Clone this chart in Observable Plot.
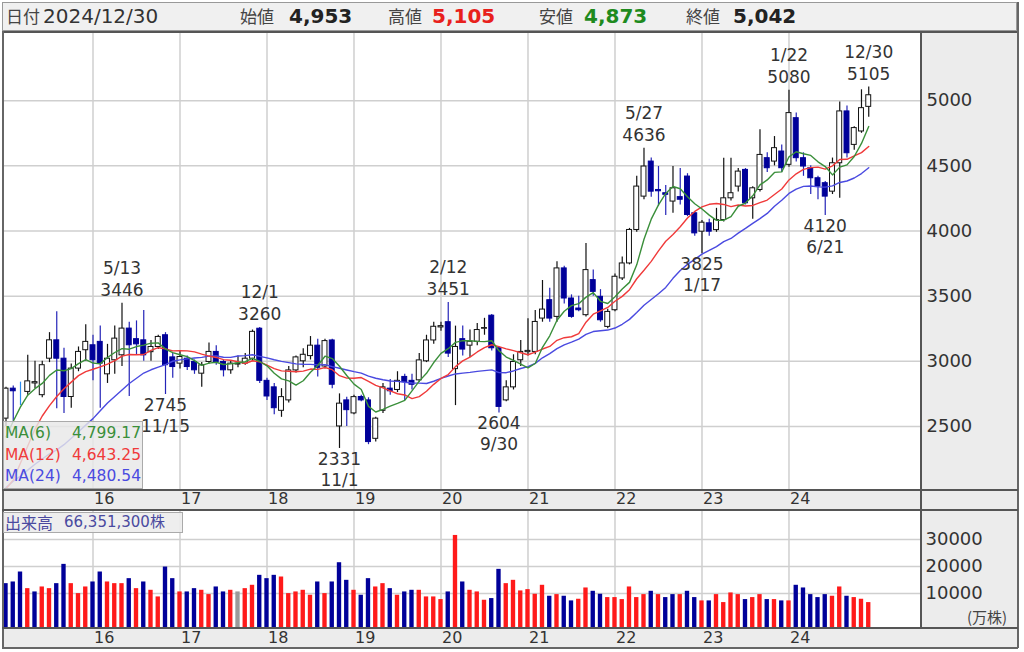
<!DOCTYPE html>
<html><head><meta charset="utf-8">
<script src="https://cdn.jsdelivr.net/npm/d3@7"></script>
<script src="https://cdn.jsdelivr.net/npm/@observablehq/plot@0.6"></script>
<style>
body{margin:0;background:#fff;font-family:"DejaVu Sans","Noto Sans CJK JP",sans-serif;}
#wrap{position:relative;width:1024px;height:652px;overflow:hidden;background:#fff;}
.abs{position:absolute;}
.jp{font-family:"Noto Sans CJK JP",sans-serif;color:#444;}
.num{font-family:"DejaVu Sans",sans-serif;font-weight:bold;font-size:20px;color:#222;}
.lg{position:absolute;font-size:15.5px;font-family:"DejaVu Sans",sans-serif;}
</style></head><body>
<div id="wrap">
  <div class="abs" style="left:2px;top:2px;width:1015px;height:29px;background:#f0f0f0;border:1px solid #999;box-sizing:border-box;"></div>
  <div class="abs" style="left:920px;top:33px;width:98px;height:595px;background:#ececec;"></div>
  <div class="abs" style="left:2px;top:490px;width:1016px;height:20px;background:#ececec;"></div>
  <div class="abs" style="left:2px;top:628px;width:1016px;height:20px;background:#ececec;"></div>
  <div id="mainChart" class="abs" style="left:0;top:33px;"></div>
  <div id="volChart" class="abs" style="left:0;top:510px;"></div>
  <div class="abs" style="left:2px;top:31px;width:1016px;height:2px;background:#555;"></div>
  <div class="abs" style="left:2px;top:31px;width:1.5px;height:617px;background:#666;"></div>
  <div class="abs" style="left:1017px;top:2px;width:1.5px;height:646px;background:#666;"></div>
  <div class="abs" style="left:920px;top:33px;width:1.5px;height:595px;background:#555;"></div>
  <div class="abs" style="left:2px;top:489px;width:1016px;height:1.5px;background:#555;"></div>
  <div class="abs" style="left:2px;top:509px;width:1016px;height:1.5px;background:#555;"></div>
  <div class="abs" style="left:2px;top:627px;width:1016px;height:1.5px;background:#555;"></div>
  <div class="abs" style="left:2px;top:647px;width:1016px;height:1.5px;background:#666;"></div>
  <div id="header"></div>
  <div class="abs" style="left:3px;top:421px;width:140px;height:68px;background:rgba(232,232,232,0.82);border:1px solid #aaa;box-sizing:border-box;"></div>
  <div id="maLegend"></div>
  <div class="abs" style="left:3px;top:512px;width:180px;height:21px;background:rgba(236,236,236,0.9);border:1px solid #aaa;box-sizing:border-box;"></div>
  <div id="volLegend"></div>
  <div class="abs jp" style="left:967px;top:606px;font-size:15px;color:#444;">(万株)</div>
</div>
<script>
// ---- data (monthly candles, Jan 2015 .. Dec 2024) ----
const open = [2560,2790,2765,2765,2830,2740,3020,3161,3020,2726,2944,3085,
  3123,3149,2900,3008,3046,3251,3170,3161,3070,3110,3200,3030,
  2982,3020,2995,2905,2995,3072,2995,2931,2975,2982,3020,3250,
  2850,2800,2620,2700,2930,3000,3040,3120,2960,3160,2500,2700,
  2600,2726,2700,2405,2620,2790,2780,2880,2850,2854,3000,3160,
  3260,3300,2940,3170,3120,3150,3250,3350,3100,2700,2800,3008,
  3070,3072,3328,3469,3341,3713,3482,3405,3354,3623,3495,3264,
  3392,3636,3751,4008,4264,4533,4315,4290,4226,4260,4418,4136,
  3995,4059,4007,4084,4251,4341,4469,4251,4315,4559,4533,4610,
  4508,4866,4559,4482,4405,4367,4302,4520,4918,4661,4764,4953];
const high = [2800,2810,2840,3046,3000,3000,3220,3380,3100,2980,3110,3280,
  3200,3270,3130,3270,3446,3300,3310,3390,3160,3200,3220,3060,
  3080,3040,3010,2990,3140,3120,3010,3000,3040,3060,3240,3260,
  2870,2830,2790,2960,3040,3097,3190,3170,3170,3170,2750,2725,
  2740,2740,2720,2570,2830,2860,2920,2900,2900,3060,3200,3300,
  3300,3451,3270,3270,3240,3290,3330,3360,3110,2850,3050,3160,
  3327,3390,3620,3560,3765,3730,3510,3500,3905,3700,3550,3400,
  3670,3800,4020,4420,4636,4560,4495,4350,4495,4480,4440,4150,
  4080,4090,4174,4559,4559,4480,4480,4340,4777,4600,4725,4660,
  5080,4905,4600,4500,4420,4380,4560,4990,4960,4800,5084,5105];
const low = [2500,2540,2660,2740,2790,2720,2990,2636,2600,2640,2920,3000,
  2850,2640,2830,2900,2960,2730,3050,3000,3000,3090,2745,2870,
  2940,2930,2900,2800,2980,2970,2880,2900,2950,2970,3000,2830,
  2700,2590,2570,2680,2910,2950,3010,2880,2940,2790,2331,2500,
  2590,2690,2360,2380,2600,2740,2760,2700,2780,2840,2990,3130,
  3230,3030,2660,3040,3030,3120,3200,3080,2604,2690,2780,2960,
  3040,3050,3300,3300,3300,3440,3330,3380,3340,3500,3300,3250,
  3380,3620,3740,3990,4240,4260,4190,4120,4136,4200,4110,3960,
  3825,3960,3990,4070,4230,4300,4200,4090,4300,4450,4500,4450,
  4490,4530,4420,4280,4240,4120,4280,4251,4560,4620,4750,4873];
const close = [2790,2770,2765,2846,2840,2970,3161,3020,2726,2944,3072,3149,
  3008,2982,3020,3174,3251,3123,3130,3046,3110,3187,2970,2956,
  3033,2956,2931,2969,3072,2995,2931,2982,2982,3020,3226,2850,
  2730,2640,2725,2930,3030,3050,3120,2950,3155,2820,2675,2625,
  2725,2700,2380,2560,2800,2770,2850,2840,2820,3007,3160,3265,
  3270,3059,3110,3090,3150,3240,3255,3100,2650,2800,2995,3072,
  3080,3302,3397,3328,3713,3482,3341,3392,3700,3533,3315,3379,
  3649,3751,4008,4341,4495,4302,4305,4278,4328,4240,4123,3982,
  4064,3995,4084,4251,4290,4456,4213,4328,4584,4482,4636,4482,
  4905,4559,4495,4405,4341,4264,4520,4918,4597,4790,4943,5042];
// volume in 万株
const volume = [13650,14270,17960,11800,10580,12420,11800,13650,20790,13650,9960,12420,
  14270,17960,14270,13650,13650,15500,11800,14270,11190,8730,19800,15500,
  10580,10580,11800,11190,9600,12420,10580,11190,10580,11800,13040,16730,
  15500,16730,16110,9960,10580,11190,9350,14270,9960,14270,21400,14880,
  11190,9350,15500,12420,13650,11800,9350,10580,11190,11190,8730,8730,
  7750,10580,31500,14270,11190,10580,7500,8120,18940,13650,14880,10950,
  11440,9720,13040,8980,9590,8980,7260,7870,12050,10820,9720,8490,
  8490,7750,12420,8490,9590,10820,9590,8490,9590,9590,10820,8490,
  7260,7260,9590,6640,10210,9590,7750,8490,9590,7750,7750,7260,
  7260,13040,12050,9590,8490,9590,8980,12420,8980,8490,7870,6635];
// volume bar colour: u = red, d = blue, n = grey
const volDir = ["d","d","d","u","d","u","u","d","d","u","u","u",
 "d","d","u","u","u","d","u","d","u","u","d","d",
 "u","d","d","u","u","d","d","u","n","u","u","d",
 "d","d","u","u","u","u","u","d","u","d","d","d",
 "u","d","d","u","u","d","u","d","d","u","u","u",
 "u","d","u","d","u","u","u","d","d","u","u","u",
 "u","u","u","d","u","d","d","u","u","d","d","u",
 "u","u","u","u","u","d","u","d","d","u","d","d",
 "u","d","u","u","u","u","d","u","u","d","u","d",
 "u","d","d","d","d","d","u","u","d","u","u","u"];
const ma6Head  = [2420,2540,2650,2740,2790];
const ma12Head = [2020,2090,2220,2350,2480,2580,2660,2730,2790,2840,2890];
const ma24Head = [2031,2080,2120,2165,2210,2250,2290,2320,2360,2410,2460,2510,
  2560,2620,2680,2730,2780,2830,2870,2910,2935,2955,2975];
const yearTicks  = [12,24,36,48,60,72,84,96,108];
const yearLabels = ["16","17","18","19","20","21","22","23","24"];
const priceTicks = [2500,3000,3500,4000,4500,5000];
const volTicks   = [10000,20000,30000];
const highNotes = [{i:16,p:3446,d:"5/13"},{i:35,p:3260,d:"12/1"},{i:61,p:3451,d:"2/12"},
  {i:88,p:4636,d:"5/27"},{i:108,p:5080,d:"1/22"},{i:119,p:5105,d:"12/30"}];
const lowNotes = [{i:22,p:2745,d:"11/15"},{i:46,p:2331,d:"11/1"},{i:68,p:2604,d:"9/30"},
  {i:96,p:3825,d:"1/17"},{i:113,p:4120,d:"6/21"}];
const header = [
  {t:"日付",x:6,cls:"jp"},{t:"2024/12/30",x:43,cls:"date"},
  {t:"始値",x:240,cls:"jp"},{t:"4,953",x:289,cls:"num",c:"#222"},
  {t:"高値",x:388,cls:"jp"},{t:"5,105",x:432,cls:"num",c:"#e8201c"},
  {t:"安値",x:539,cls:"jp"},{t:"4,873",x:584,cls:"num",c:"#1e8a1e"},
  {t:"終値",x:686,cls:"jp"},{t:"5,042",x:733,cls:"num",c:"#222"}];
const maNames  = ["MA(6)","MA(12)","MA(24)"];
const maLast   = ["4,799.17","4,643.25","4,480.54"];
const maColors = ["#3a8f3a","#f03a3a","#4a4ae0"];

// ---- build ----
const movingAvg = (k, head) => close.map((c, i) => i < k - 1 ? head[i] : d3.mean(close.slice(i - k + 1, i + 1)));
const ma6 = movingAvg(6, ma6Head), ma12 = movingAvg(12, ma12Head), ma24 = movingAvg(24, ma24Head);
const rows = close.map((c, i) => ({i, o: open[i], h: high[i], l: low[i], c, v: volume[i], vd: volDir[i],
  ma6: ma6[i], ma12: ma12[i], ma24: ma24[i]}));
const UP = "#ffffff", DOWN = "#000099", DOJI = "#2b8cf0";
const bodyFill = d => d.c > d.o ? UP : d.c < d.o ? DOWN : DOJI;
const bodyStroke = d => d.c > d.o ? "#111" : d.c < d.o ? DOWN : DOJI;
const wickStroke = d => d.c > d.o ? "#111" : d.c === d.o ? DOJI : "#2424b8";
const xDomain = [-0.345, 126.14];
const FONT = "DejaVu Sans, Noto Sans CJK JP, sans-serif";

const main = Plot.plot({
  width: 1024, height: 477, marginLeft: 3, marginRight: 104, marginTop: 0, marginBottom: 21,
  style: {background: "transparent", fontFamily: FONT, color: "#333"},
  color: {type: "identity"},
  x: {type: "linear", domain: xDomain, axis: null},
  y: {domain: [2016, 5516], axis: null},
  marks: [
    Plot.gridY(priceTicks, {stroke: "#cfcfcf", strokeOpacity: 1, strokeWidth: 1.5}),
    Plot.gridX(yearTicks, {stroke: "#cfcfcf", strokeOpacity: 1, strokeWidth: 1.5}),
    Plot.ruleX(rows, {x: "i", y1: "l", y2: "h", stroke: wickStroke, strokeWidth: 1.2}),
    Plot.rect(rows, {x1: d => d.i - 0.34, x2: d => d.i + 0.34, y1: "o", y2: "c", fill: bodyFill, stroke: bodyStroke, strokeWidth: 1}),
    Plot.line(rows, {x: "i", y: "ma24", stroke: maColors[2], strokeWidth: 1.4}),
    Plot.line(rows, {x: "i", y: "ma12", stroke: maColors[1], strokeWidth: 1.4}),
    Plot.line(rows, {x: "i", y: "ma6", stroke: maColors[0], strokeWidth: 1.4}),
    Plot.text(highNotes, {x: "i", y: "p", text: d => String(d.p), dy: -13, fontSize: 17, fill: "#333"}),
    Plot.text(highNotes, {x: "i", y: "p", text: "d", dy: -35, fontSize: 17, fill: "#333"}),
    Plot.text(lowNotes, {x: "i", y: "p", text: d => String(d.p), dy: 11, fontSize: 17, fill: "#333"}),
    Plot.text(lowNotes, {x: "i", y: "p", text: "d", dy: 32, fontSize: 17, fill: "#333"}),
    Plot.axisY(priceTicks, {anchor: "right", tickSize: 0, tickPadding: 6, fontSize: 18, fill: "#333", label: null, tickFormat: d => String(d)}),
    Plot.axisX(yearTicks, {anchor: "bottom", tickSize: 0, tickPadding: 3, fontSize: 16, fill: "#333", label: null,
      textAnchor: "start", dx: 1, tickFormat: d => yearLabels[yearTicks.indexOf(d)]})
  ]
});
document.getElementById("mainChart").append(main);

const vol = Plot.plot({
  width: 1024, height: 140, marginLeft: 3, marginRight: 104, marginTop: 0, marginBottom: 22,
  style: {background: "transparent", fontFamily: FONT, color: "#333"},
  color: {type: "identity"},
  x: {type: "linear", domain: xDomain, axis: null},
  y: {domain: [-2963, 40741], axis: null},
  marks: [
    Plot.gridY(volTicks, {stroke: "#cfcfcf", strokeOpacity: 1, strokeWidth: 1.5}),
    Plot.gridX(yearTicks, {stroke: "#cfcfcf", strokeOpacity: 1, strokeWidth: 1.5}),
    Plot.rect(rows, {x1: d => d.i - 0.3, x2: d => d.i + 0.3, y1: -2963, y2: "v",
      fill: d => d.vd === "u" ? "#ff1a1a" : d.vd === "d" ? "#000099" : "#9a9a9a"}),
    Plot.axisY(volTicks, {anchor: "right", tickSize: 0, tickPadding: 5, fontSize: 18, fill: "#333", label: null, tickFormat: d => String(d)}),
    Plot.axisX(yearTicks, {anchor: "bottom", tickSize: 0, tickPadding: 3, fontSize: 16, fill: "#333", label: null,
      textAnchor: "start", dx: 1, tickFormat: d => yearLabels[yearTicks.indexOf(d)]})
  ]
});
document.getElementById("volChart").append(vol);

// header texts
const hd = document.getElementById("header");
for (const h of header) {
  const el = document.createElement("div");
  el.className = "abs " + (h.cls === "date" ? "" : h.cls);
  el.textContent = h.t;
  el.style.left = h.x + "px";
  if (h.cls === "jp") { el.style.top = "5px"; el.style.fontSize = "17px"; el.style.lineHeight = "22px"; }
  else if (h.cls === "num") { el.style.top = "5px"; el.style.lineHeight = "22px"; el.style.color = h.c; }
  else { el.style.top = "5px"; el.style.fontSize = "20px"; el.style.lineHeight = "22px"; el.style.color = "#333"; }
  hd.append(el);
}
// MA legend
const ml = document.getElementById("maLegend");
maNames.forEach((n, k) => {
  const a = document.createElement("div");
  a.className = "lg"; a.textContent = n; a.style.left = "5px"; a.style.top = (424 + k * 21.5) + "px"; a.style.color = maColors[k];
  const b = document.createElement("div");
  b.className = "lg"; b.textContent = maLast[k]; b.style.right = (1024 - 141) + "px"; b.style.top = (424 + k * 21.5) + "px"; b.style.color = maColors[k];
  ml.append(a, b);
});
const vl = document.getElementById("volLegend");
const v1 = document.createElement("div");
v1.className = "abs jp"; v1.textContent = "出来高"; v1.style.left = "5px"; v1.style.top = "512px"; v1.style.fontSize = "16px"; v1.style.color = "#4a4aa0"; v1.style.lineHeight = "20px";
const v2 = document.createElement("div");
v2.className = "abs"; v2.textContent = "66,351,300株"; v2.style.left = "64px"; v2.style.top = "513px"; v2.style.fontSize = "15px"; v2.style.color = "#4a4aa0"; v2.style.lineHeight = "18px";
vl.append(v1, v2);
</script>
</body></html>
